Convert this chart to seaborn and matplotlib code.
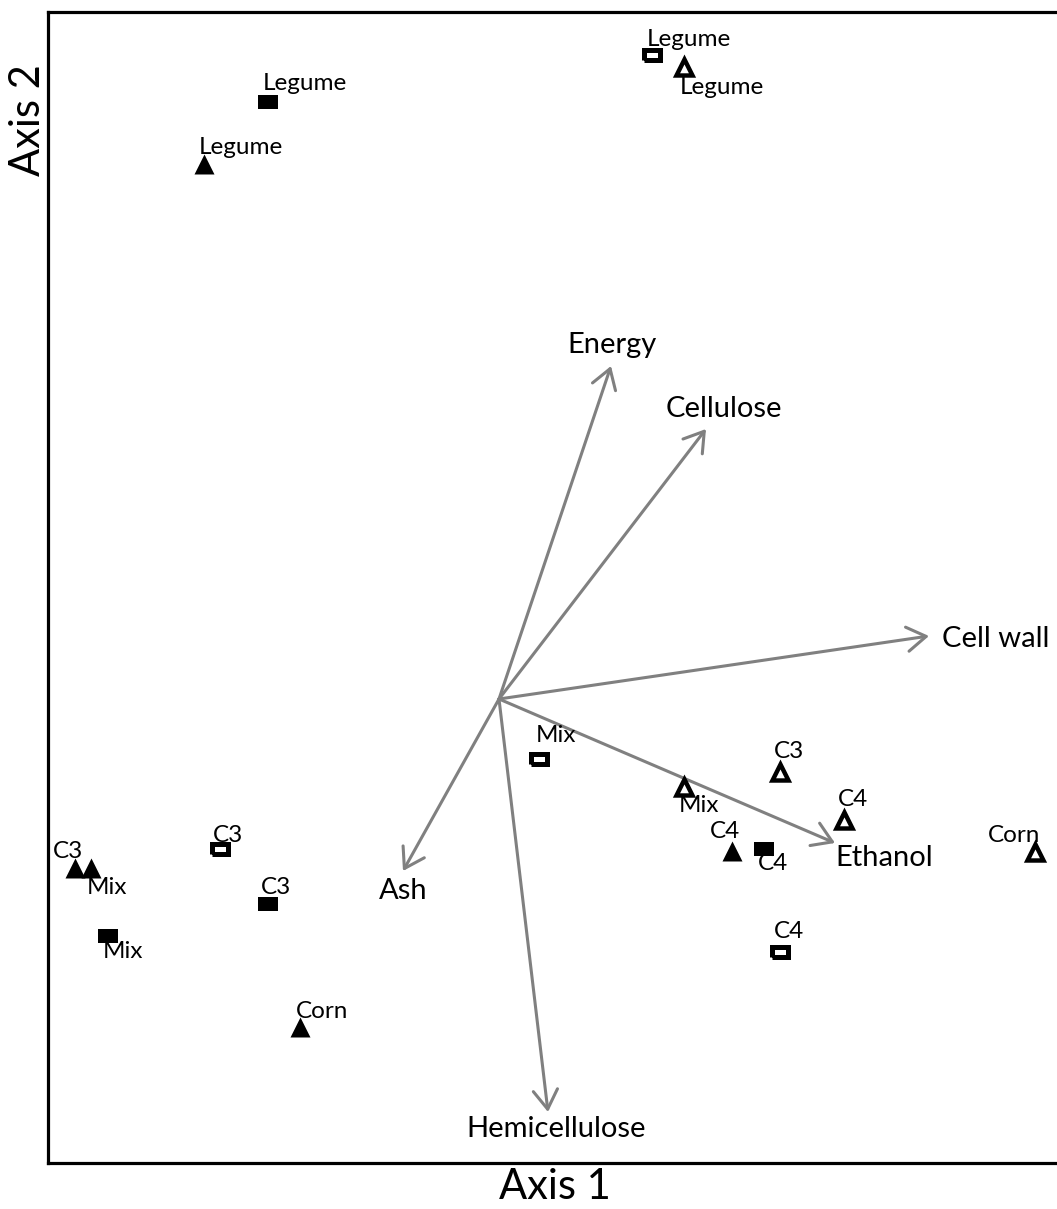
import numpy as np
import pandas as pd
import matplotlib
matplotlib.use("Agg")
import matplotlib.pyplot as plt
from matplotlib.patches import FancyArrowPatch
import seaborn as sns

# Sample scores on the first two ordination axes, one list set per marker group
solid_rect_labels = ["Legume", "C3", "Mix", "C4"]
solid_rect_x = [-0.924, -0.924, -1.564, 1.060]
solid_rect_y = [2.388, -0.820, -0.948, -0.600]

solid_tri_labels = ["Legume", "C3", "Mix", "Corn", "C4"]
solid_tri_x = [-1.180, -1.696, -1.632, -0.796, 0.932]
solid_tri_y = [2.140, -0.676, -0.676, -1.312, -0.608]

open_rect_labels = ["Legume", "C3", "Mix", "C4"]
open_rect_x = [0.612, -1.116, 0.160, 1.124]
open_rect_y = [2.576, -0.600, -0.240, -1.012]

open_tri_labels = ["Legume", "Mix", "C3", "C4", "Corn"]
open_tri_x = [0.740, 0.740, 1.124, 1.380, 2.144]
open_tri_y = [2.528, -0.352, -0.292, -0.484, -0.612]

# Biplot vectors for the quality variables
vector_names = ["Energy", "Cellulose", "Cell wall", "Ethanol", "Hemicellulose", "Ash"]
vector_x = [0.448, 0.828, 1.720, 1.344, 0.196, -0.384]
vector_y = [1.332, 1.080, 0.252, -0.576, -1.652, -0.688]

# ---- styling -------------------------------------------------------------
sns.set_theme(style="white")
plt.rcParams["font.family"] = ["Lato", "DejaVu Sans"]
plt.rcParams["text.color"] = "black"

W, H = 1057, 1209
fig = plt.figure(figsize=(W / 100, H / 100), dpi=100)
ax = fig.add_axes([48 / W, 46 / H, 1017 / W, 1151 / H])
ax.set_xlim(-1.804, 2.264)
ax.set_ylim(-1.856, 2.748)

# label offsets in pixels (right, down) from each marker
solid_rect_off = [(37, -19), (8, -17), (15, 15), (9, 14)]
solid_tri_off = [(37, -17), (-7, -16), (16, 19), (22, -16), (-7, -19)]
open_rect_off = [(37, -16), (8, -14), (17, -23), (9, -20)]
open_tri_off = [(38, 21), (15, 18), (9, -20), (9, -20), (-21, -16)]
vector_off = [(1, -21), (18, -20), (67, 3), (49, 15), (8, 17), (0, 20)]

rect_marker = [(-1, -0.667), (1, -0.667), (1, 0.667), (-1, 0.667), (-1, -0.667)]
open_rect_marker = [(-1, -0.6), (1, -0.6), (1, 0.6), (-1, 0.6), (-1, -0.6)]

groups = [
    (solid_rect_labels, solid_rect_x, solid_rect_y, solid_rect_off,
     dict(marker=rect_marker, s=228, color="black", linewidth=0)),
    (solid_tri_labels, solid_tri_x, solid_tri_y, solid_tri_off,
     dict(marker="^", s=207, color="black", linewidth=0)),
    (open_rect_labels, open_rect_x, open_rect_y, open_rect_off,
     dict(marker=open_rect_marker, s=133, facecolor="white", edgecolor="black",
          linewidth=3.6, joinstyle="miter")),
    (open_tri_labels, open_tri_x, open_tri_y, open_tri_off,
     dict(marker="^", s=133, facecolor="white", edgecolor="black",
          linewidth=3.2, joinstyle="miter")),
]

# vectors from the origin
arrow_grey = "#808080"
for name, vx, vy, (dx, dy) in zip(vector_names, vector_x, vector_y, vector_off):
    arr = FancyArrowPatch((0, 0), (vx, vy), arrowstyle="->,head_length=0.55,head_width=0.35",
                          mutation_scale=25, color=arrow_grey, lw=2.2,
                          shrinkA=0, shrinkB=0, zorder=2)
    ax.add_patch(arr)
    ax.annotate(name, (vx, vy), xytext=(dx, -dy), textcoords="offset pixels",
                ha="center", va="center", fontsize=21, color="black", zorder=4)

for labels, xs, ys, offs, style in groups:
    df = pd.DataFrame({"x": xs, "y": ys})
    sns.scatterplot(data=df, x="x", y="y", ax=ax, zorder=3, legend=False, **style)
    for lab, x, y, (dx, dy) in zip(labels, xs, ys, offs):
        ax.annotate(lab, (x, y), xytext=(dx, -dy), textcoords="offset pixels",
                    ha="center", va="center", fontsize=17.5, color="black", zorder=4)

ax.set_xlabel("")
ax.set_ylabel("")
ax.set_xticks([])
ax.set_yticks([])
for side in ["left", "bottom", "top"]:
    ax.spines[side].set_color("black")
    ax.spines[side].set_linewidth(2.3)
ax.spines["right"].set_visible(False)

fig.text(555 / W, 1 - 1199 / H, "Axis 1", ha="center", va="baseline",
         fontsize=30, color="black")
fig.text(28 / W, 1 - 120 / H, "Axis 2", ha="center", va="center", rotation=90,
         fontsize=30, color="black")

fig.savefig("out.png", dpi=100)
